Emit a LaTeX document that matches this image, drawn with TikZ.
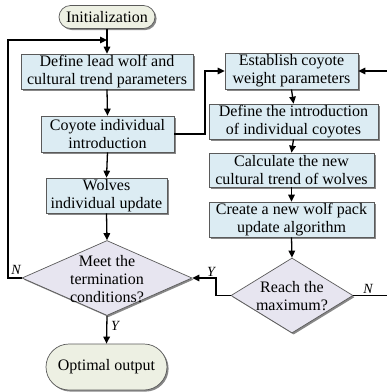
\documentclass[tikz,border=0pt]{standalone}
\usepackage{fontspec}
\setmainfont{Liberation Serif}
\usetikzlibrary{arrows.meta,shapes.geometric,shadows}
\definecolor{boxblue}{RGB}{220,236,243}
\definecolor{pillfill}{RGB}{237,240,227}
\definecolor{diafill}{RGB}{231,229,240}
\definecolor{edgegray}{RGB}{90,90,90}
\tikzset{
  txt/.style={font=\fontsize{16}{18}\selectfont, align=center},
  shad/.style={drop shadow={shadow xshift=1.6pt,shadow yshift=-1.6pt,fill=black!55,opacity=0.85}},
  procbox/.style={txt, shad, draw=edgegray, line width=0.7pt, fill=boxblue, inner sep=0pt},
  pill/.style={txt, shad, draw=edgegray, line width=0.7pt, fill=pillfill, inner sep=0pt},
  decide/.style={diamond, shad, draw=edgegray, line width=0.7pt, fill=diafill, inner sep=0pt},
  flow/.style={line width=1.3pt, -{Triangle[length=7pt,width=6.5pt]}},
  yn/.style={font=\fontsize{14}{16}\selectfont\itshape, inner sep=0pt}
}
\begin{document}
\begin{tikzpicture}[x=1pt,y=-1pt]
\useasboundingbox (0,0) rectangle (387,392);
% left column
\node[pill, minimum width=96pt, minimum height=23pt, rounded corners=11.5pt] (init) at (107,17) {Initialization};
\node[procbox, minimum width=172pt, minimum height=35pt] (b1) at (107,71.5) {Define lead wolf and\\cultural trend parameters};
\node[procbox, minimum width=133pt, minimum height=36pt] (b2) at (107.5,134) {Coyote individual\\introduction};
\node[procbox, minimum width=121pt, minimum height=35pt] (b3) at (106.5,195.5) {Wolves\\individual update};
\node[decide, minimum width=170pt, minimum height=75pt, aspect=2.27] (d1) at (107,278) {};
\node[txt] (d1t) at (107,279) {Meet the\\termination\\conditions?};
\node[pill, minimum width=121pt, minimum height=46pt, rounded corners=23pt] (opt) at (106.5,367) {Optimal output};
% right column
\node[procbox, minimum width=133pt, minimum height=36pt] (r1) at (291.5,71) {Establish coyote\\weight parameters};
\node[procbox, minimum width=169pt, minimum height=35pt] (r2) at (293.5,121.5) {Define the introduction\\of individual coyotes};
\node[procbox, minimum width=165pt, minimum height=34pt] (r3) at (291.5,170) {Calculate the new\\cultural trend of wolves};
\node[procbox, minimum width=165pt, minimum height=35pt] (r4) at (291.5,219.5) {Create a new wolf pack\\update algorithm};
\node[decide, minimum width=122pt, minimum height=75pt, aspect=1.63] (d2) at (292,295.5) {};
\node[txt] (d2t) at (292,296) {Reach the\\maximum?};
% junction coordinates
\coordinate (j1) at (107,40);
\coordinate (lx) at (8,278);
\coordinate (cx) at (205,134);
\coordinate (rx) at (389,295.5);
\coordinate (yx) at (216,295.5);
% connectors
\draw[flow] (init.south) -- (b1.north);
\draw[flow] (d1.west) -- (lx) |- (j1);
\draw[flow] (b1.south) -- (b2.north);
\draw[flow] (b2.south) -- (b3.north);
\draw[flow] (b3.south) -- (d1.north);
\draw[flow] (d1.south) -- (opt.north);
\draw[flow] (b2.east) -- (cx) |- (r1.west);
\draw[flow] (r1.south) -- (r2.north);
\draw[flow] (r2.south) -- (r3.north);
\draw[flow] (r3.south) -- (r4.north);
\draw[flow] (r4.south) -- (d2.north);
\draw[flow] (d2.east) -- (rx) |- (r1.east);
\draw[flow] (d2.west) -- (yx) |- (d1.east);
% labels
\node[yn] (ln) at (16,270) {N};
\node[yn] (ly) at (115,326) {Y};
\node[yn] (ly2) at (211,272) {Y};
\node[yn] (ln2) at (368,289) {N};
\end{tikzpicture}
\end{document}
